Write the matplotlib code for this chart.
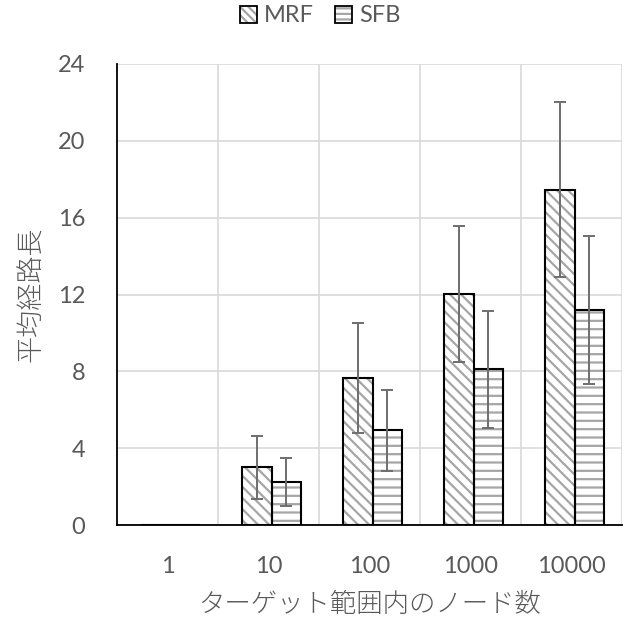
import matplotlib
matplotlib.use("Agg")
import matplotlib.pyplot as plt
import numpy as np
from matplotlib.patches import Patch
from matplotlib.legend_handler import HandlerTuple

categories = ['1', '10', '100', '1000', '10000']
mrf = [0, 3.0, 7.65, 12.03, 17.45]
mrf_err = [0, 1.63, 2.85, 3.55, 4.55]
sfb = [0, 2.24, 4.93, 8.1, 11.2]
sfb_err = [0, 1.23, 2.1, 3.05, 3.86]
yticks = [0, 4, 8, 12, 16, 20, 24]

TXT = '#595959'
plt.rcParams['font.family'] = ['Lato', 'Noto Sans CJK JP', 'DejaVu Sans']
plt.rcParams['hatch.linewidth'] = 1.6

fig = plt.figure(figsize=(6.33, 6.23), dpi=100)
ax = fig.add_axes([117/633, 1-525/623, 505/633, 461/623])

x = np.arange(len(categories))
w = 0.29
off = 0.03
series = [(mrf, mrf_err, '\\\\\\', -w/2 + off, 'MRF'), (sfb, sfb_err, '--', w/2 + off, 'SFB')]
for vals, errs, hatch, dx, name in series:
    ax.bar(x + dx, vals, w, color='white', edgecolor='#a6a6a6', hatch=hatch, linewidth=0, zorder=3)
    ax.bar(x + dx, vals, w, color='none', edgecolor='black', linewidth=1.5, zorder=4)
    v = np.array(vals); e = np.array(errs)
    m = v > 0
    ax.errorbar((x + dx)[m], v[m], yerr=e[m], fmt='none', ecolor='#6e6e6e', elinewidth=1.4,
                capsize=4, capthick=1.4, zorder=5)

ax.set_xlim(-0.5, len(categories) - 0.5)
ax.set_ylim(0, 24)
ax.set_yticks(yticks)
ax.set_xticks(x)
ax.set_xticklabels(categories)
ax.set_xticks(np.arange(0.5, len(categories), 1), minor=True)
ax.grid(axis='y', which='major', color='#d9d9d9', linewidth=1.2, zorder=0)
ax.grid(axis='x', which='minor', color='#d9d9d9', linewidth=1.2, zorder=0)
ax.set_axisbelow(True)
ax.tick_params(axis='both', which='both', length=0, labelsize=17, labelcolor=TXT)
ax.tick_params(axis='x', pad=22)
ax.tick_params(axis='y', pad=23)
for s in ['top', 'right']:
    ax.spines[s].set_visible(False)
for s in ['left', 'bottom']:
    ax.spines[s].set_color('black')
    ax.spines[s].set_linewidth(1.3)
    ax.spines[s].set_zorder(6)

ax.set_ylabel('平均経路長', fontsize=19.5, color=TXT, labelpad=9,
              family=['Noto Sans CJK JP', 'DejaVu Sans'], fontweight='light')
ax.set_xlabel('ターゲット範囲内のノード数', fontsize=19, color=TXT, labelpad=10,
              family=['Noto Sans CJK JP', 'DejaVu Sans'], fontweight='light')

h1 = (Patch(facecolor='white', edgecolor='#a6a6a6', hatch='\\\\\\\\', linewidth=0),
      Patch(facecolor='none', edgecolor='black', linewidth=1.3))
h2 = (Patch(facecolor='white', edgecolor='#a6a6a6', hatch='---', linewidth=0),
      Patch(facecolor='none', edgecolor='black', linewidth=1.3))
leg = fig.legend([h1, h2], ['MRF', 'SFB'], loc='center', bbox_to_anchor=(320/633, 1-16/623),
                 ncol=2, frameon=False, fontsize=17, handlelength=0.72, handleheight=0.72,
                 handletextpad=0.3, columnspacing=0.9, labelcolor=TXT,
                 handler_map={tuple: HandlerTuple(ndivide=1, pad=0)})

fig.savefig('out.png', dpi=100)
